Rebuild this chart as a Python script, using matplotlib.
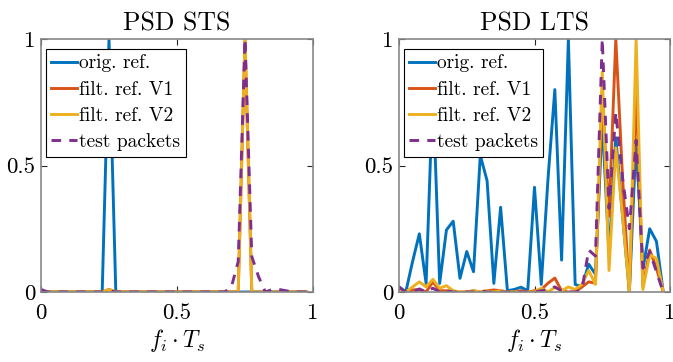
import numpy as np
import matplotlib
matplotlib.use("Agg")
import matplotlib.pyplot as plt

# frequency grid (40 bins, normalized)
n_bins = 40
freq = np.arange(n_bins) / n_bins

# PSD STS
sts_orig = [0, 0, 0, 0, 0, 0, 0, 0, 0, 0,
            1.0, 0, 0, 0, 0, 0, 0, 0, 0, 0,
            0, 0, 0, 0, 0, 0, 0, 0, 0, 0,
            0, 0, 0, 0, 0, 0, 0, 0, 0, 0]
sts_v1 = [0, 0, 0, 0, 0, 0, 0, 0, 0, 0,
          0.01, 0, 0, 0, 0, 0, 0, 0, 0, 0,
          0, 0, 0, 0, 0, 0, 0, 0, 0, 0,
          1.0, 0, 0, 0, 0, 0, 0, 0, 0, 0]
sts_v2 = [0, 0, 0, 0, 0, 0, 0, 0, 0, 0,
          0.01, 0, 0, 0, 0, 0, 0, 0, 0, 0,
          0, 0, 0, 0, 0, 0, 0, 0, 0, 0,
          1.0, 0, 0, 0, 0, 0, 0, 0, 0, 0]
sts_test = [0.01, 0, 0, 0, 0, 0, 0, 0, 0, 0,
            0.005, 0, 0, 0, 0, 0, 0, 0, 0, 0,
            0, 0, 0, 0, 0, 0, 0, 0, 0.02, 0.12,
            1.0, 0.14, 0.06, 0, 0.01, 0.01, 0.005, 0, 0, 0]

# PSD LTS
lts_orig = [0.02, 0.0, 0.12, 0.23, 0.034, 0.8, 0.034, 0.245, 0.28, 0.054,
            0.16, 0.08, 0.54, 0.44, 0.034, 0.335, 0.005, 0.01, 0.019, 0.005,
            0.414, 0.03, 0.45, 0.8, 0.126, 1.0, 0.03, 0.02, 0.11, 0.07,
            0.68, 0.15, 0.61, 0.3, 0.0, 0.6, 0.09, 0.25, 0.2, 0.0]
lts_v1 = [0.0, 0.0, 0.008, 0.01, 0.0, 0.04, 0.005, 0.005, 0.0, 0.0,
          0.0, 0.005, 0.0, 0.005, 0.008, 0.005, 0.0, 0.0, 0.005, 0.0,
          0.005, 0.01, 0.035, 0.055, 0.005, 0.0, 0.0, 0.02, 0.04, 0.035,
          0.78, 0.3, 1.0, 0.45, 0.0, 0.8, 0.02, 0.166, 0.094, 0.0]
lts_v2 = [0.0, 0.0, 0.02, 0.04, 0.02, 0.05, 0.015, 0.025, 0.005, 0.0,
          0.0, 0.005, 0.0, 0.005, 0.0, 0.005, 0.0, 0.0, 0.0, 0.0,
          0.0, 0.015, 0.0, 0.018, 0.005, 0.02, 0.01, 0.03, 0.085, 0.03,
          0.87, 0.085, 0.57, 0.3, 0.0, 1.0, 0.01, 0.146, 0.133, 0.0]
lts_test = [0.02, 0.0, 0.0, 0.012, 0.0, 0.015, 0.0, 0.005, 0.0, 0.0,
            0.0, 0.0, 0.005, 0.0, 0.0, 0.0, 0.0, 0.0, 0.0, 0.0,
            0.0, 0.005, 0.01, 0.02, 0.005, 0.0, 0.0, 0.01, 0.166, 0.142,
            1.0, 0.33, 0.71, 0.45, 0.25, 0.6, 0.094, 0.16, 0.08, 0.0]

labels = ["orig. ref.", "filt. ref. V1", "filt. ref. V2", "test packets"]
titles = ["PSD STS", "PSD LTS"]
ticks = [0, 0.5, 1]
tick_labels = ["0", "0.5", "1"]

colors = ["#0072BD", "#D95319", "#EDB120", "#7E2F8E"]

plt.rcParams["font.family"] = "cmr10"
plt.rcParams["mathtext.fontset"] = "cm"
plt.rcParams["axes.formatter.use_mathtext"] = True

fig = plt.figure(figsize=(6.73, 3.62), dpi=100)
ax1 = fig.add_axes([41 / 673, 70 / 362, 272 / 673, 253 / 362])
ax2 = fig.add_axes([399 / 673, 70 / 362, 271 / 673, 253 / 362])

datasets = [(sts_orig, sts_v1, sts_v2, sts_test),
            (lts_orig, lts_v1, lts_v2, lts_test)]

for ax, title, data in zip([ax1, ax2], titles, datasets):
    for i, (y, lab) in enumerate(zip(data, labels)):
        if i == 3:
            ax.plot(freq, y, color=colors[i], lw=2.1, ls=(0, (3.3, 2.8)), label=lab)
        else:
            ax.plot(freq, y, color=colors[i], lw=2.1, label=lab)
    ax.set_xlim(0, 1)
    ax.set_ylim(0, 1)
    ax.set_xticks(ticks)
    ax.set_xticklabels(tick_labels)
    ax.set_yticks(ticks)
    ax.set_yticklabels(tick_labels)
    ax.tick_params(direction="in", length=4, width=0.8, labelsize=16.5,
                   top=True, right=True, pad=4, color="#262626")
    ax.tick_params(axis="x", pad=8)
    for sp in ax.spines.values():
        sp.set_color("#888888")
        sp.set_linewidth(1.2)
    ax.set_title(title, fontsize=18.5, pad=6)
    ax.set_xlabel(r"$f_i \cdot T_s$", fontsize=17, labelpad=3)
    leg = ax.legend(loc="upper left", bbox_to_anchor=(0.017, 0.962),
                    borderaxespad=0, fontsize=14, handlelength=1.3,
                    handletextpad=0.1, labelspacing=0.42, borderpad=0.3,
                    fancybox=False, framealpha=1, edgecolor="black")
    leg.get_frame().set_linewidth(0.8)

fig.savefig("out.png", dpi=100)
